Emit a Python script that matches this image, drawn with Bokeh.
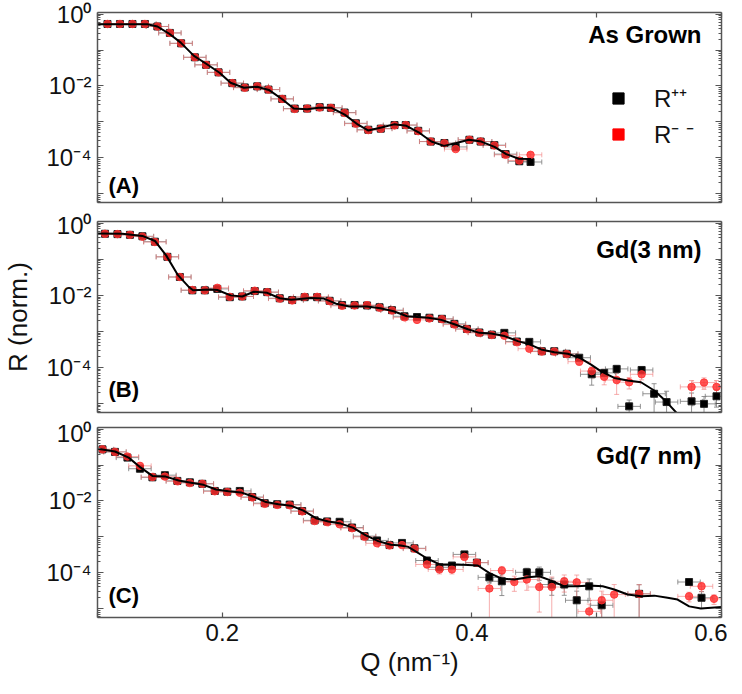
import numpy as np
from bokeh.plotting import figure
from bokeh.models import (ColumnDataSource, Whisker, TeeHead, FixedTicker,
                          CustomJSTickFormatter, LinearAxis, LogAxis, Label,
                          Legend, LegendItem, Range1d)
from bokeh.layouts import column
from bokeh.embed import file_html
from bokeh.resources import INLINE

FONT = "Liberation Sans"

# ---------------- axes ----------------
q_ticks = [0.1, 0.2, 0.3, 0.4, 0.5, 0.6]
r_decades = [1e-5, 1e-4, 1e-3, 1e-2, 1e-1, 1e0]
r_minor = [k * d for d in [1e-6, 1e-5, 1e-4, 1e-3, 1e-2, 1e-1] for k in range(2, 10)]
q_range = (0.1, 0.6)
r_range = (10 ** -5.25, 10 ** 0.05)
dq = 0.009  # half width of the Q resolution bars

# ---------------- panel A : As Grown (values are log10 R) ----------------
a_q = [0.108, 0.118, 0.128, 0.138, 0.148, 0.158, 0.167, 0.178, 0.187, 0.197,
       0.208, 0.218, 0.228, 0.237, 0.248, 0.258, 0.268, 0.278, 0.287, 0.298,
       0.307, 0.317, 0.327, 0.338, 0.347, 0.357, 0.367, 0.378, 0.387, 0.398,
       0.407, 0.418, 0.427, 0.438, 0.447]
a_pp = [-0.27, -0.27, -0.27, -0.27, -0.34, -0.52, -0.81, -1.20, -1.41, -1.62,
        -1.92, -2.04, -2.01, -2.10, -2.36, -2.63, -2.63, -2.59, -2.61, -2.74,
        -3.04, -3.22, -3.19, -3.09, -3.09, -3.25, -3.55, -3.59, -3.70, -3.50,
        -3.55, -3.65, -3.90, -4.10, -4.12]
a_mm = [-0.27, -0.27, -0.27, -0.27, -0.34, -0.52, -0.81, -1.20, -1.41, -1.62,
        -1.92, -2.05, -2.01, -2.10, -2.36, -2.64, -2.63, -2.60, -2.61, -2.75,
        -3.05, -3.23, -3.19, -3.10, -3.09, -3.26, -3.55, -3.60, -3.76, -3.50,
        -3.55, -3.66, -3.92, -4.08, -3.92]
a_pp_err = [0.05, 0.05, 0.05, 0.05, 0.05, 0.05, 0.05, 0.05, 0.05, 0.05,
            0.05, 0.05, 0.05, 0.05, 0.05, 0.05, 0.05, 0.05, 0.05, 0.05,
            0.05, 0.05, 0.05, 0.05, 0.05, 0.05, 0.05, 0.05, 0.10, 0.10,
            0.10, 0.10, 0.10, 0.15, 0.15]
a_mm_err = [0.05, 0.05, 0.05, 0.05, 0.05, 0.05, 0.05, 0.05, 0.05, 0.05,
            0.05, 0.05, 0.05, 0.05, 0.05, 0.05, 0.05, 0.05, 0.05, 0.05,
            0.05, 0.05, 0.05, 0.05, 0.05, 0.05, 0.05, 0.05, 0.10, 0.10,
            0.10, 0.10, 0.10, 0.15, 0.15]
a_fit_q = [0.100, 0.140, 0.148, 0.157, 0.1667, 0.1773, 0.188, 0.1978, 0.2066,
           0.2173, 0.228, 0.2373, 0.248, 0.2573, 0.268, 0.2773, 0.2875, 0.2981,
           0.3088, 0.3168, 0.3275, 0.3376, 0.3475, 0.3581, 0.3675, 0.3776,
           0.3875, 0.3976, 0.4075, 0.4181, 0.4275, 0.4376, 0.4474]
a_fit = [-0.28, -0.28, -0.34, -0.53, -0.79, -1.16, -1.40, -1.63, -1.91,
         -2.05, -2.02, -2.11, -2.37, -2.63, -2.65, -2.61, -2.61, -2.80,
         -3.08, -3.24, -3.16, -3.07, -3.11, -3.31, -3.55, -3.67,
         -3.59, -3.50, -3.55, -3.70, -3.90, -4.03, -4.04]

# ---------------- panel B : Gd(3 nm) ----------------
b_q = [0.106, 0.116, 0.126, 0.136, 0.146, 0.156, 0.166, 0.176, 0.186, 0.196,
       0.206, 0.216, 0.226, 0.236, 0.246, 0.256, 0.266, 0.276, 0.286, 0.296,
       0.306, 0.316, 0.326, 0.336, 0.346, 0.356, 0.366, 0.376, 0.386, 0.396,
       0.406, 0.416, 0.426, 0.436, 0.446, 0.456, 0.466, 0.476, 0.486, 0.496,
       0.506, 0.516, 0.526, 0.536, 0.546, 0.556, 0.566, 0.576, 0.586, 0.596]
b_pp = [-0.29, -0.30, -0.32, -0.36, -0.51, -0.93, -1.49, -1.86, -1.86, -1.82,
        -2.05, -2.03, -1.88, -1.91, -2.08, -2.13, -2.05, -2.05, -2.15, -2.27,
        -2.27, -2.28, -2.33, -2.41, -2.58, -2.60, -2.62, -2.65, -2.79, -2.93,
        -3.03, -3.09, -3.04, -3.28, -3.29, -3.55, -3.55, -3.62, -3.73, -4.19,
        -4.15, -4.04, -5.08, -4.07, -4.73, -4.96, None, -4.94, -5.01, -4.80]
b_mm = [-0.29, -0.30, -0.32, -0.37, -0.52, -0.93, -1.49, -1.85, -1.86, -1.79,
        -2.04, -2.03, -1.87, -1.91, -2.09, -2.14, -2.04, -2.04, -2.16, -2.29,
        -2.28, -2.27, -2.34, -2.42, -2.61, -2.68, -2.64, -2.66, -2.81, -2.94,
        -3.04, -3.10, -3.12, -3.30, -3.48, -3.56, -3.56, -3.63, -3.84, -4.10,
        -4.26, -4.35, -4.41, -4.19, None, None, None, -4.54, -4.42, -4.54]
b_pp_err = [0.05, 0.05, 0.05, 0.05, 0.05, 0.05, 0.05, 0.05, 0.05, 0.05,
            0.05, 0.05, 0.05, 0.05, 0.05, 0.05, 0.05, 0.05, 0.05, 0.05,
            0.05, 0.05, 0.05, 0.05, 0.05, 0.05, 0.05, 0.05, 0.05, 0.05,
            0.05, 0.08, 0.08, 0.08, 0.08, 0.08, 0.08, 0.08, 0.15, 0.50,
            0.20, 0.25, 0.50, 0.25, 0.90, 1.00, None, 0.70, 0.60, 0.50]
b_mm_err = [0.05, 0.05, 0.05, 0.05, 0.05, 0.05, 0.05, 0.05, 0.05, 0.05,
            0.05, 0.05, 0.05, 0.05, 0.05, 0.05, 0.05, 0.05, 0.05, 0.05,
            0.05, 0.05, 0.05, 0.05, 0.05, 0.05, 0.05, 0.05, 0.05, 0.05,
            0.05, 0.08, 0.08, 0.08, 0.08, 0.08, 0.08, 0.08, 0.20, 0.30,
            0.40, 0.60, 0.35, 0.30, None, None, None, 0.50, 0.35, 0.50]
b_fit_q = [0.100, 0.120, 0.136, 0.146, 0.155, 0.1645, 0.1733, 0.1765, 0.1907,
           0.196, 0.2067, 0.216, 0.2253, 0.236, 0.2461, 0.2552, 0.2707, 0.2813,
           0.2912, 0.3018, 0.316, 0.3267, 0.3373, 0.348, 0.365, 0.3755, 0.386,
           0.3968, 0.406, 0.4155, 0.4261, 0.4368, 0.4461, 0.4555, 0.4661,
           0.4768, 0.4861, 0.4955, 0.5035, 0.5141, 0.5248, 0.5355, 0.5461,
           0.5555, 0.5648, 0.5700]
b_fit = [-0.28, -0.29, -0.35, -0.49, -0.89, -1.44, -1.77, -1.86, -1.84,
         -1.85, -2.00, -2.03, -1.90, -1.93, -2.08, -2.12, -2.07, -2.09,
         -2.23, -2.31, -2.31, -2.36, -2.44, -2.58, -2.62, -2.68, -2.80,
         -2.94, -3.04, -3.06, -3.13, -3.27, -3.36, -3.50, -3.58,
         -3.62, -3.73, -3.92, -4.11, -4.29, -4.36, -4.41, -4.64,
         -4.94, -5.29, -5.50]

# ---------------- panel C : Gd(7 nm) ----------------
c_q = [0.104, 0.114, 0.124, 0.134, 0.144, 0.154, 0.164, 0.174, 0.184, 0.194,
       0.204, 0.214, 0.224, 0.234, 0.244, 0.254, 0.264, 0.274, 0.284, 0.294,
       0.304, 0.314, 0.324, 0.334, 0.344, 0.354, 0.364, 0.374, 0.384, 0.394,
       0.404, 0.414, 0.424, 0.434, 0.444, 0.454, 0.464, 0.474, 0.484, 0.494,
       0.504, 0.514, 0.524, 0.534, 0.544, 0.554, 0.564, 0.574, 0.584, 0.594]
c_pp = [-0.56, -0.63, -0.79, -1.10, -1.34, -1.28, -1.44, -1.48, -1.52, -1.72,
        -1.74, -1.72, -1.89, -2.06, -2.09, -2.10, -2.28, -2.54, -2.57, -2.58,
        -2.74, -2.98, -3.10, -3.23, -3.17, -3.32, -3.66, -3.85, -3.80, -3.49,
        -3.72, -4.13, -4.24, None, -3.99, -3.99, -4.33, -4.33, -4.77, -4.38,
        -4.91, None, None, -4.59, None, None, None, -4.26, -4.70, None]
c_mm = [-0.56, -0.63, -0.76, -1.02, -1.33, -1.32, -1.45, -1.50, -1.52, -1.73,
        -1.75, -1.77, -1.90, -2.08, -2.11, -2.12, -2.29, -2.56, -2.59, -2.65,
        -2.76, -3.00, -3.18, -3.24, -3.23, -3.33, -3.77, -3.91, -3.91, -3.56,
        -3.72, -4.44, -3.94, -4.26, -4.19, -4.40, -4.40, -4.24, -4.27, -5.08,
        -4.77, -4.61, None, -4.59, None, None, None, -4.66, -4.38, -4.73]
c_pp_err = [0.06, 0.06, 0.06, 0.06, 0.06, 0.06, 0.06, 0.06, 0.06, 0.06,
            0.06, 0.06, 0.06, 0.06, 0.06, 0.06, 0.06, 0.06, 0.06, 0.06,
            0.06, 0.06, 0.06, 0.06, 0.06, 0.06, 0.15, 0.20, 0.20, 0.15,
            0.20, 0.30, 0.60, None, 0.30, 0.40, 0.50, 0.50, 0.80, 0.60,
            0.70, None, None, 0.80, None, None, None, 0.20, 0.50, None]
c_mm_err = [0.06, 0.06, 0.06, 0.06, 0.06, 0.06, 0.06, 0.06, 0.06, 0.06,
            0.06, 0.06, 0.06, 0.06, 0.06, 0.06, 0.06, 0.06, 0.06, 0.06,
            0.06, 0.06, 0.06, 0.06, 0.06, 0.06, 0.20, 0.25, 0.25, 0.15,
            0.20, 1.20, 0.30, 0.45, 0.50, 0.80, 0.90, 0.50, 0.60, 0.60,
            0.80, 0.90, None, 0.80, None, None, None, 0.30, 0.30, 0.30]
c_fit_q = [0.100, 0.114, 0.125, 0.1347, 0.144, 0.1547, 0.165, 0.175, 0.185,
           0.195, 0.205, 0.215, 0.225, 0.235, 0.245, 0.255, 0.265, 0.275,
           0.285, 0.295, 0.305, 0.315, 0.325, 0.335, 0.343, 0.349, 0.3635,
           0.3741, 0.3888, 0.4048, 0.4141, 0.4235, 0.4341, 0.4448, 0.4541,
           0.4635, 0.4741, 0.4848, 0.4941, 0.5048, 0.5141, 0.5248, 0.5355,
           0.5461, 0.5568, 0.5648, 0.5741, 0.5835, 0.600]
c_fit = [-0.54, -0.62, -0.79, -1.07, -1.30, -1.32, -1.43, -1.49, -1.55,
         -1.68, -1.73, -1.76, -1.88, -2.03, -2.09, -2.13, -2.27, -2.48,
         -2.57, -2.63, -2.75, -2.96, -3.12, -3.22, -3.24, -3.28, -3.59,
         -3.77, -3.77, -3.80, -4.01, -4.16, -4.19, -4.13, -4.10,
         -4.22, -4.38, -4.38, -4.36, -4.38, -4.47, -4.61, -4.66,
         -4.64, -4.70, -4.75, -4.94, -5.00, -4.96]

AXIS_COLOR = "#555555"
PP_COLOR = "#000000"
MM_COLOR = "#ff3030"


def arr(lst):
    return np.array([np.nan if v is None else v for v in lst], dtype=float)


def series_source(q, logr, err):
    q = np.array(q, dtype=float)
    lr = arr(logr)
    e = arr(err)
    m = ~np.isnan(lr)
    r = 10 ** lr[m]
    lo = np.maximum(r * (1 - e[m]), 1e-8)
    hi = r * (1 + e[m])
    return ColumnDataSource(dict(q=q[m], r=r, lo=lo, hi=hi,
                                 qlo=q[m] - dq, qhi=q[m] + dq))


y_fmt_code = """
const e = Math.round(Math.log10(tick));
if (e % 2 != 0) return "";
const sup = {"0":"\u2070","1":"\u00b9","2":"\u00b2","3":"\u00b3","4":"\u2074","5":"\u2075","6":"\u2076","-":"\u207b"};
return "10" + String(e).split("").map(c => sup[c]).join("");
"""
x_fmt_code = """
const v = Math.round(tick*10);
return (v % 2 == 0 && v > 1) ? (v/10).toFixed(1) : "";
"""
blank_code = "return '';"


def style_axis(ax, major_in, labels):
    ax.axis_line_color = AXIS_COLOR
    ax.axis_line_width = 1.5
    ax.major_tick_in = major_in
    ax.major_tick_out = 0
    ax.minor_tick_in = 3
    ax.minor_tick_out = 0
    ax.major_tick_line_color = AXIS_COLOR
    ax.minor_tick_line_color = AXIS_COLOR
    ax.major_tick_line_width = 1.2
    ax.minor_tick_line_width = 1
    ax.major_label_text_font = FONT
    ax.major_label_text_color = "#111111"
    if labels:
        ax.major_label_text_font_size = "24px"
        ax.major_label_standoff = 6
    else:
        ax.formatter = CustomJSTickFormatter(code=blank_code)
        ax.major_label_text_font_size = "0px"
        ax.major_label_standoff = 0


def make_panel(q, pp, mm, pp_err, mm_err, fit_q, fit, tag, title, title_y,
               tag_y, frame_h, top, bottom, x_labels=False, y_label=None,
               legend=False):
    p = figure(x_range=Range1d(*q_range), y_range=Range1d(*r_range),
               y_axis_type="log", x_axis_location=None, y_axis_location=None,
               frame_width=624, frame_height=frame_h,
               min_border_left=91, min_border_right=12,
               min_border_top=top, min_border_bottom=bottom,
               output_backend="svg", toolbar_location=None)
    p.outline_line_color = None
    p.background_fill_color = "white"
    p.border_fill_color = "white"
    p.xgrid.visible = False
    p.ygrid.visible = False

    # axes (ticks pointing inwards on all four sides)
    left = LogAxis(ticker=FixedTicker(ticks=r_decades, minor_ticks=r_minor),
                   formatter=CustomJSTickFormatter(code=y_fmt_code))
    style_axis(left, 6, True)
    if y_label:
        left.axis_label = y_label
        left.axis_label_text_font = FONT
        left.axis_label_text_font_size = "26px"
        left.axis_label_text_font_style = "normal"
        left.axis_label_text_color = "#111111"
        left.axis_label_standoff = 10
    p.add_layout(left, "left")
    right = LogAxis(ticker=FixedTicker(ticks=r_decades, minor_ticks=r_minor))
    style_axis(right, 6, False)
    p.add_layout(right, "right")

    bot = LinearAxis(ticker=FixedTicker(ticks=q_ticks),
                     formatter=CustomJSTickFormatter(code=x_fmt_code))
    style_axis(bot, 5, x_labels)
    if x_labels:
        bot.axis_label = "Q (nm\u207b\u00b9)"
        bot.axis_label_text_font = FONT
        bot.axis_label_text_font_size = "26px"
        bot.axis_label_text_font_style = "normal"
        bot.axis_label_text_color = "#111111"
        bot.axis_label_standoff = 3
    p.add_layout(bot, "below")
    topax = LinearAxis(ticker=FixedTicker(ticks=q_ticks))
    style_axis(topax, 5, False)
    p.add_layout(topax, "above")

    src_pp = series_source(q, pp, pp_err)
    src_mm = series_source(q, mm, mm_err)

    for src, col, alpha in [(src_pp, "#808080", 0.85), (src_mm, "#f07878", 0.6)]:
        for base, lo, hi, dim in [("r", "qlo", "qhi", "width"), ("q", "lo", "hi", "height")]:
            w = Whisker(source=src, base=base, lower=lo, upper=hi, dimension=dim,
                        line_color=col, line_alpha=alpha, line_width=1,
                        upper_head=TeeHead(size=5, line_color=col, line_alpha=alpha, line_width=1),
                        lower_head=TeeHead(size=5, line_color=col, line_alpha=alpha, line_width=1))
            p.add_layout(w)

    p.scatter("q", "r", source=src_pp, marker="square", size=7,
              fill_color=PP_COLOR, line_color="#222222", line_width=1)
    p.scatter("q", "r", source=src_mm, marker="circle", size=7.5,
              fill_color=MM_COLOR, fill_alpha=0.82, line_color=MM_COLOR,
              line_alpha=0.82)
    p.line(np.array(fit_q), 10 ** arr(fit), line_color="black", line_width=2)

    p.add_layout(Label(x=604, y=title_y, x_units="screen", y_units="screen",
                       text=title, text_align="right", text_baseline="alphabetic",
                       text_font=FONT, text_font_size="24px",
                       text_font_style="bold", text_color="black"))
    p.add_layout(Label(x=11, y=tag_y, x_units="screen", y_units="screen",
                       text=tag, text_align="left", text_baseline="alphabetic",
                       text_font=FONT, text_font_size="22px",
                       text_font_style="bold", text_color="black"))

    if legend:
        d_pp = p.scatter(x=[np.nan], y=[np.nan], marker="square", size=11,
                         fill_color="black", line_color="black")
        d_mm = p.scatter(x=[np.nan], y=[np.nan], marker="square", size=11,
                         fill_color="#ff0000", line_color="#ff0000")
        lg = Legend(items=[LegendItem(label="R\u207a\u207a", renderers=[d_pp]),
                           LegendItem(label="R\u207b \u207b", renderers=[d_mm])],
                    location=(507, 52), orientation="vertical",
                    glyph_width=28, glyph_height=28, label_height=28,
                    spacing=3, padding=0, margin=0, label_standoff=22,
                    label_text_font=FONT, label_text_font_size="24px",
                    label_text_color="#111111",
                    background_fill_alpha=0, border_line_alpha=0)
        p.add_layout(lg)
    return p


pA = make_panel(a_q, a_pp, a_mm, a_pp_err, a_mm_err, a_fit_q, a_fit,
                "(A)", "As Grown", 168, 17, 190, 12, 9, legend=True)
pB = make_panel(b_q, b_pp, b_mm, b_pp_err, b_mm_err, b_fit_q, b_fit,
                "(B)", "Gd(3 nm)", 163, 23, 191, 10, 7, y_label="R (norm.)")
pC = make_panel(c_q, c_pp, c_mm, c_pp_err, c_mm_err, c_fit_q, c_fit,
                "(C)", "Gd(7 nm)", 162, 22, 190, 8, 60, x_labels=True)

layout = column(pA, pB, pC, spacing=0)
open("out.html", "w").write(file_html(layout, INLINE))
